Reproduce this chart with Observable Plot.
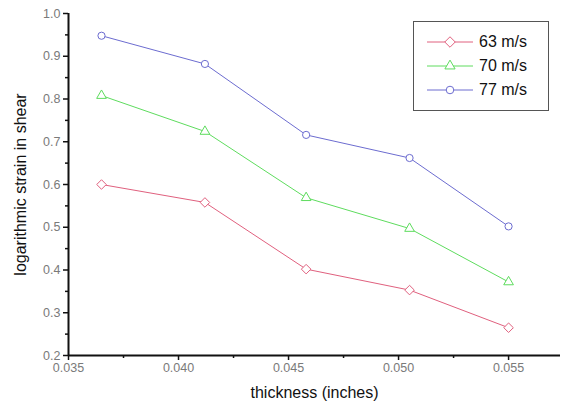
<!DOCTYPE html>
<html><head><meta charset="utf-8">
<script src="https://cdn.jsdelivr.net/npm/d3@7"></script>
<script src="https://cdn.jsdelivr.net/npm/@observablehq/plot@0.6"></script>
<style>
body{margin:0;background:#fff;font-family:"Liberation Sans",Arial,sans-serif;}
#wrap{position:relative;width:561px;height:412px;}
#legend{position:absolute;left:413px;top:21px;width:134px;height:88px;border:1px solid #555;background:#fff;font-size:16px;color:#111;}
#legend .row{position:absolute;left:0;height:24px;display:flex;align-items:center;}
#legend svg{margin-left:13px;margin-right:6px;}
</style></head><body>
<div id="wrap"><div id="chart"></div><div id="legend"></div></div>
<script>
const thickness = [0.0365, 0.0412, 0.0458, 0.0505, 0.0550];
const series = ["63 m/s", "70 m/s", "77 m/s"];
const strain63 = [0.600, 0.558, 0.402, 0.353, 0.265];
const strain70 = [0.808, 0.724, 0.569, 0.497, 0.372];
const strain77 = [0.948, 0.882, 0.716, 0.662, 0.502];
const colors = ["#e0607e", "#5edc5e", "#6c6cd0"];
const symbols = ["diamond2", "triangle", "circle"];
const xTicks = [0.035, 0.040, 0.045, 0.050, 0.055];
const yTicks = [0.2, 0.3, 0.4, 0.5, 0.6, 0.7, 0.8, 0.9, 1.0];

const values = [strain63, strain70, strain77];
const data = [];
series.forEach((s, i) => thickness.forEach((t, j) => data.push({series: s, x: t, y: values[i][j], r: i === 0 ? 4.3 : 3.6})));

const xMinor = d3.range(0.0375, 0.058, 0.005);
const yMinor = d3.range(0.25, 1.0, 0.1);

const plot = Plot.plot({
  width: 561, height: 412,
  marginLeft: 68, marginTop: 13, marginBottom: 57, marginRight: 1,
  style: {fontFamily: "Liberation Sans, Arial, sans-serif", fontSize: "12px", background: "#fff"},
  x: {domain: [0.035, 0.05736]},
  y: {domain: [0.2, 1.0]},
  r: {type: "identity"},
  color: {domain: series, range: colors},
  symbol: {domain: series, range: symbols},
  marks: [
    Plot.line(data, {x: "x", y: "y", stroke: "series", z: "series", strokeWidth: 1}),
    Plot.dot(data, {x: "x", y: "y", stroke: "series", symbol: "series", fill: "white", r: "r", strokeWidth: 1}),
    Plot.axisX(xMinor, {tickSize: 3, text: null, label: null, stroke: "#111", strokeWidth: 1.5, strokeOpacity: 1}),
    Plot.axisY(yMinor, {tickSize: 3, text: null, label: null, stroke: "#111", strokeWidth: 1.5, strokeOpacity: 1}),
    Plot.axisX(xTicks, {tickSize: 5, tickPadding: 3, tickFormat: d3.format(".3f"), fill: "#7a7a7a", stroke: "#111", strokeWidth: 1.5, strokeOpacity: 1, fontSize: 12.5, label: "thickness (inches)", labelAnchor: "center", labelOffset: 42, labelArrow: "none"}),
    Plot.axisY(yTicks, {tickSize: 5, tickPadding: 3, tickFormat: d3.format(".1f"), fill: "#7a7a7a", stroke: "#111", strokeWidth: 1.5, strokeOpacity: 1, fontSize: 12.5, label: "logarithmic strain in shear", labelAnchor: "center", labelOffset: 54, labelArrow: "none"}),
    Plot.ruleX([0.035], {stroke: "#111", strokeWidth: 2}),
    Plot.ruleY([0.2], {stroke: "#111", strokeWidth: 2})
  ]
});
document.getElementById("chart").appendChild(plot);

// style axis labels
d3.select(plot).selectAll("[aria-label='x-axis label'] text, [aria-label='y-axis label'] text")
  .attr("fill", "#111").style("font-size", "16px").style("font-weight", "normal");

// legend
const legSymbols = [d3.symbol(d3.symbolDiamond2, 70)(), d3.symbol(d3.symbolTriangle, 45)(), d3.symbol(d3.symbolCircle, 45)()];
const leg = d3.select("#legend");
series.forEach((s, i) => {
  const row = leg.append("div").attr("class", "row").style("top", (8 + i * 24) + "px");
  const svg = row.append("svg").attr("width", 46).attr("height", 12);
  svg.append("line").attr("x1", 0).attr("x2", 46).attr("y1", 6).attr("y2", 6).attr("stroke", colors[i]);
  svg.append("path").attr("d", legSymbols[i]).attr("transform", "translate(23,6)")
    .attr("fill", "white").attr("stroke", colors[i]);
  row.append("span").text(s);
});
</script>
</body></html>
